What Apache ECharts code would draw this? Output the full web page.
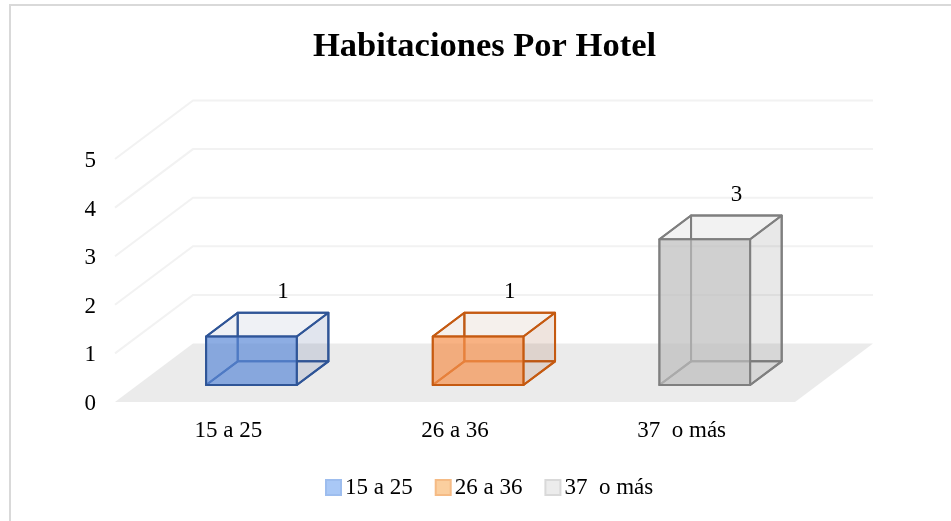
<!DOCTYPE html>
<html>
<head>
<meta charset="utf-8">
<style>html,body{margin:0;padding:0;background:#fff}#c{width:951px;height:521px}</style>
<script src="https://cdn.jsdelivr.net/npm/echarts@6/dist/echarts.min.js"></script>
</head>
<body>
<div id="c"></div>
<script>
var categories = ['15 a 25', '26 a 36', '37  o más'];
var seriesNames = ['15 a 25', '26 a 36', '37  o más'];
var seriesValues = [1, 1, 3];
var yTicks = [0, 1, 2, 3, 4, 5];
var strokes = ['#2f5597', '#c55a11', '#7f7f7f'];
var fronts = ['rgba(92,138,215,0.7)', 'rgba(245,146,78,0.7)', 'rgba(188,188,188,0.7)'];
var sides = ['rgba(55,82,142,0.15)', 'rgba(148,75,35,0.15)', 'rgba(100,100,100,0.15)'];
var tops = ['rgba(95,115,155,0.1)', 'rgba(155,105,65,0.1)', 'rgba(125,125,125,0.1)'];
var legendFills = ['#a9c8f6', '#fbcf9f', '#ececec'];
var legendBorders = ['#9dbdee', '#f5bb85', '#d9d9d9'];

var FONT = '"Liberation Serif","Times New Roman",serif';
var DX = 78, DY = -58.5;
var BAR_NEAR = 0.29, BAR_FAR = 0.695, BAR_W = 0.4, BAR_SHIFT = 0.5;

function poly(pts, fill, stroke, w) {
  return {type: 'polygon', shape: {points: pts},
    style: {fill: fill || 'none', stroke: stroke || 'none', lineWidth: w || 0, lineJoin: 'round'}};
}

var series = [];

series.push({
  name: 'floor', type: 'custom', silent: true, z: 1,
  data: [0],
  renderItem: function (params, api) {
    var cs = params.coordSys, y0 = api.coord([0, 0])[1], l = cs.x, r = cs.x + cs.width;
    return poly([[l, y0], [r, y0], [r + DX, y0 + DY], [l + DX, y0 + DY]], '#ebebeb');
  }
});

series.push({
  name: 'walls', type: 'custom', silent: true, z: 1,
  data: yTicks.slice(1),
  encode: {y: 0},
  renderItem: function (params, api) {
    var cs = params.coordSys, y = api.coord([0, api.value(0)])[1], l = cs.x, r = cs.x + cs.width;
    return {type: 'polyline', shape: {points: [[l, y], [l + DX, y + DY], [r + DX, y + DY]]},
      style: {fill: 'none', stroke: '#f2f2f2', lineWidth: 2}};
  }
});

seriesNames.forEach(function (name, i) {
  var d = categories.map(function (c, j) { return j === i ? [c, seriesValues[i]] : null; }).filter(Boolean);
  series.push({
    name: name, type: 'custom', z: 3, silent: true,
    itemStyle: {color: legendFills[i], borderColor: legendBorders[i], borderWidth: 1.5},
    encode: {x: 0, y: 1},
    data: d,
    renderItem: function (params, api) {
      var c = api.coord([api.value(0), 0]);
      var t = api.coord([api.value(0), api.value(1)]);
      var w = api.size([1, 0])[0] * BAR_W;
      var h = c[1] - t[1];
      var nx = c[0] + DX * BAR_NEAR + BAR_SHIFT, ny = c[1] + DY * BAR_NEAR;
      var fx = c[0] + DX * BAR_FAR + BAR_SHIFT, fy = c[1] + DY * BAR_FAR;
      var L = nx - w / 2, R = nx + w / 2;
      var bL = fx - w / 2, bR = fx + w / 2;
      var s = strokes[i], lw = 2;
      return {type: 'group', children: [
        poly([[bL, fy], [bR, fy], [bR, fy - h], [bL, fy - h]], null, s, lw),
        poly([[L, ny], [R, ny], [bR, fy], [bL, fy]], null, s, lw),
        poly([[L, ny], [L, ny - h], [bL, fy - h], [bL, fy]], null, s, lw),
        poly([[R, ny], [R, ny - h], [bR, fy - h], [bR, fy]], sides[i], s, lw),
        poly([[L, ny - h], [R, ny - h], [bR, fy - h], [bL, fy - h]], tops[i], s, lw),
        poly([[L, ny], [R, ny], [R, ny - h], [L, ny - h]], fronts[i], s, lw),
        {type: 'text', style: {text: String(api.value(1)), x: fx, y: fy - h - 21,
          align: 'center', verticalAlign: 'middle', font: '23px ' + FONT, fill: '#000'}}
      ]};
    }
  });
});

var option = {
  animation: false,
  backgroundColor: '#fff',
  title: {text: 'Habitaciones Por Hotel', left: 308, top: 25,
    textStyle: {fontFamily: FONT, fontSize: 34.5, fontWeight: 'bold', color: '#000'}},
  legend: {
    show: true, top: 471, left: 320, itemWidth: 15, itemHeight: 15, itemGap: 22,
    data: seriesNames.map(function (n) { return {name: n, icon: 'rect'}; }),
    textStyle: {fontFamily: FONT, fontSize: 23, color: '#000', padding: [0, 0, 0, -1]}
  },
  grid: {left: 115, right: 156, top: 159, bottom: 119, containLabel: false},
  xAxis: {type: 'category', data: categories,
    axisLine: {show: false}, axisTick: {show: false}, splitLine: {show: false},
    axisLabel: {fontFamily: FONT, fontSize: 23, color: '#000', margin: 17}},
  yAxis: {type: 'value', min: 0, max: 5, interval: 1,
    axisLine: {show: false}, axisTick: {show: false}, splitLine: {show: false},
    axisLabel: {color: '#000', margin: 19, formatter: '{n|{value}}',
      rich: {n: {fontFamily: FONT, fontSize: 23, color: '#000', padding: [4, 0, 0, 0]}}}},
  graphic: [{type: 'polyline', silent: true, z: 0,
    shape: {points: [[10, 521], [10, 5], [951, 5]]},
    style: {fill: 'none', stroke: '#d9d9d9', lineWidth: 2}}],
  series: series
};
var chart = echarts.init(document.getElementById('c'), null, {renderer: 'canvas'});
chart.setOption(option);
</script>
</body>
</html>
